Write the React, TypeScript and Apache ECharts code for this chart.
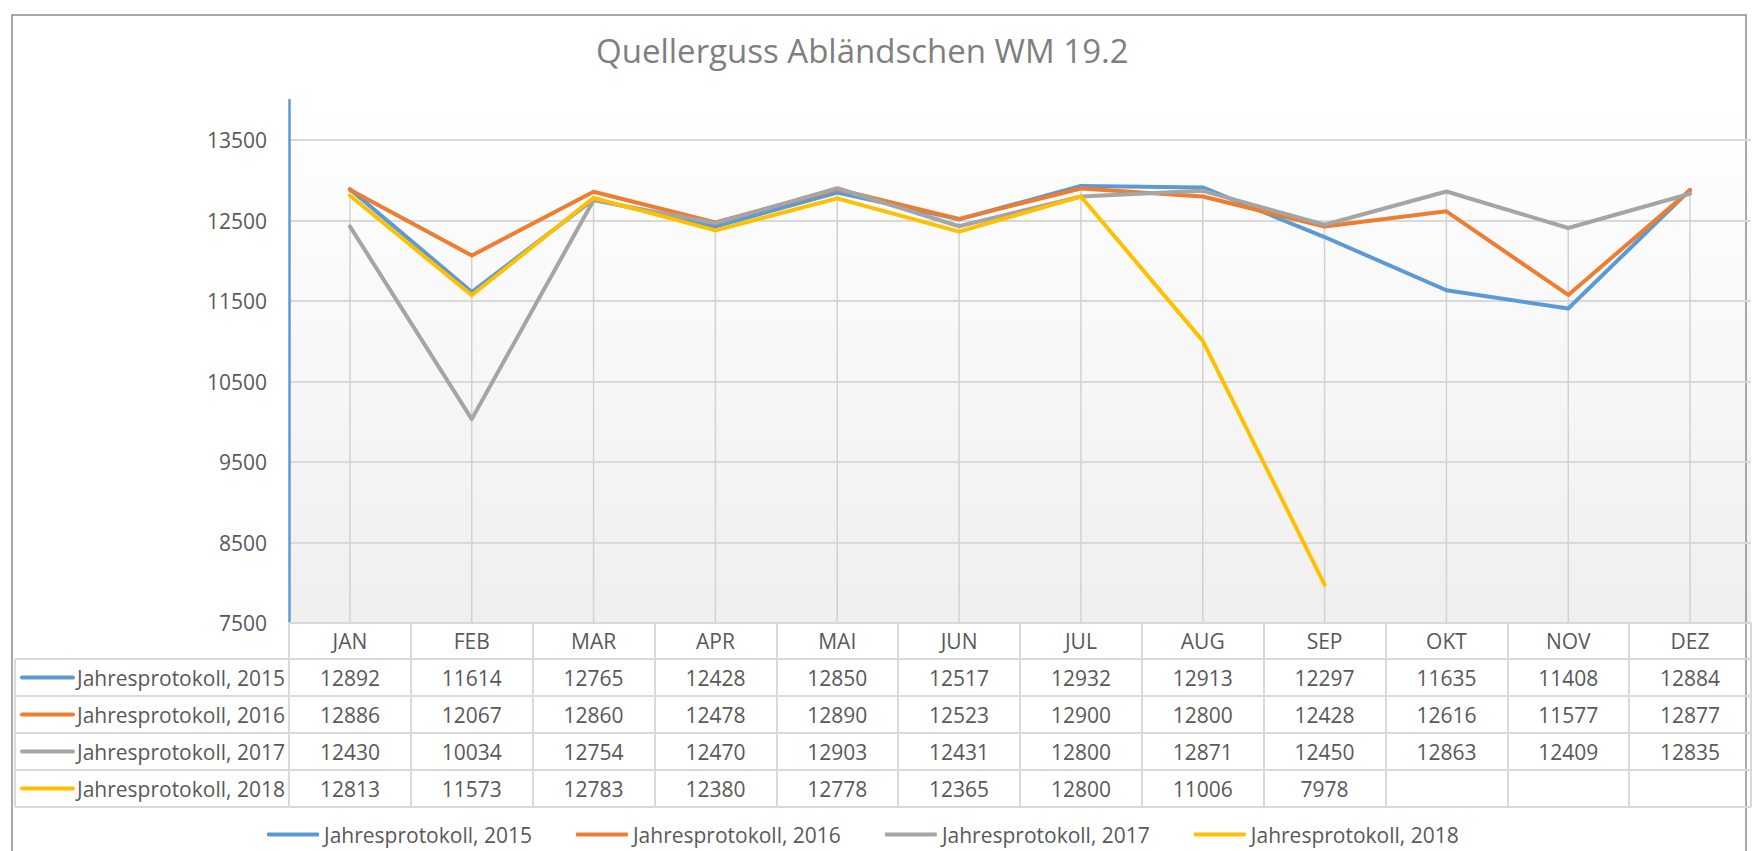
import React, { useEffect, useRef } from "react";
import * as echarts from "echarts";

const categories = ["JAN", "FEB", "MAR", "APR", "MAI", "JUN", "JUL", "AUG", "SEP", "OKT", "NOV", "DEZ"];
const seriesNames = [
  "Jahresprotokoll, 2015",
  "Jahresprotokoll, 2016",
  "Jahresprotokoll, 2017",
  "Jahresprotokoll, 2018",
];
const values2015 = [12892, 11614, 12765, 12428, 12850, 12517, 12932, 12913, 12297, 11635, 11408, 12884];
const values2016 = [12886, 12067, 12860, 12478, 12890, 12523, 12900, 12800, 12428, 12616, 11577, 12877];
const values2017 = [12430, 10034, 12754, 12470, 12903, 12431, 12800, 12871, 12450, 12863, 12409, 12835];
const values2018 = [12813, 11573, 12783, 12380, 12778, 12365, 12800, 11006, 7978, null, null, null];
const yTickLabels = [7500, 8500, 9500, 10500, 11500, 12500, 13500];
const Y_MIN = 7500;
const Y_MAX = 14000;

const seriesColors = ["#5B9BD5", "#ED7D31", "#A5A5A5", "#FFC000"];
const allValues = [values2015, values2016, values2017, values2018];

// layout
const W = 1763;
const H = 851;
const GRID_LEFT = 289;
const GRID_TOP = 100;
const GRID_BOTTOM_Y = 623;
const GRID_RIGHT_X = 1751;
const HEADER_H = 36;
const ROW_H = 37;
const TABLE_LEFT = 15;
const FONT = '"Open Sans", sans-serif';
const TEXT_COLOR = "#595959";
const TABLE_LINE = "#d9d9d9";

export default function App() {
  const ref = useRef<HTMLDivElement>(null);

  useEffect(() => {
    if (!ref.current) return;
    const chart = echarts.init(ref.current, undefined, { renderer: "svg" });

    const tableBottom = GRID_BOTTOM_Y + HEADER_H + ROW_H * seriesNames.length;

    const graphics: any[] = [];
    // outer chart border
    graphics.push({
      type: "rect",
      shape: { x: 12, y: 15, width: 1734, height: H },
      style: { fill: "none", stroke: "#8c8c8c", lineWidth: 1.5 },
      silent: true,
      z: 0,
    });
    // table horizontal lines
    for (let i = 0; i <= seriesNames.length; i++) {
      const y = GRID_BOTTOM_Y + HEADER_H + ROW_H * i;
      graphics.push({
        type: "line",
        shape: { x1: TABLE_LEFT, y1: y, x2: GRID_RIGHT_X, y2: y },
        style: { stroke: TABLE_LINE, lineWidth: 2 },
        silent: true,
      });
    }
    // table left vertical line
    graphics.push({
      type: "line",
      shape: { x1: TABLE_LEFT, y1: GRID_BOTTOM_Y + HEADER_H, x2: TABLE_LEFT, y2: tableBottom },
      style: { stroke: TABLE_LINE, lineWidth: 2 },
      silent: true,
    });
    // row legend keys and names
    seriesNames.forEach((name, i) => {
      const cy = GRID_BOTTOM_Y + HEADER_H + ROW_H * i + ROW_H / 2;
      graphics.push({
        type: "line",
        shape: { x1: 22, y1: cy, x2: 73, y2: cy },
        style: { stroke: seriesColors[i], lineWidth: 4, lineCap: "round" },
        silent: true,
      });
      graphics.push({
        type: "text",
        x: 77,
        y: cy,
        style: {
          text: name,
          fill: TEXT_COLOR,
          font: `21px ${FONT}`,
          textAlign: "left",
          textVerticalAlign: "middle",
          align: "left",
          verticalAlign: "middle",
        },
        silent: true,
      });
    });

    const dropData = categories.map((_, i) => {
      const vals = allValues.map((s) => s[i]).filter((v) => v !== null && v !== undefined) as number[];
      return [i, Math.max(...vals)];
    });

    const option: any = {
      animation: false,
      backgroundColor: "#ffffff",
      textStyle: { fontFamily: FONT },
      title: {
        text: "Quellerguss Abländschen WM 19.2",
        left: 591,
        top: 29,
        textStyle: { fontSize: 33, fontWeight: "normal", color: "#7f7f7f", fontFamily: FONT },
      },
      grid: {
        left: GRID_LEFT,
        top: GRID_TOP,
        width: GRID_RIGHT_X - GRID_LEFT,
        height: GRID_BOTTOM_Y - GRID_TOP,
        show: true,
        borderWidth: 0,
        backgroundColor: new echarts.graphic.LinearGradient(0, 0, 0, 1, [
          { offset: 0, color: "#ffffff" },
          { offset: 1, color: "#efefef" },
        ]),
        containLabel: false,
      },
      legend: {
        data: seriesNames,
        left: 262,
        top: 819,
        icon: "roundRect",
        itemWidth: 52,
        itemHeight: 4,
        itemGap: 44,
        textStyle: { fontSize: 21, color: TEXT_COLOR, fontFamily: FONT },
      },
      xAxis: {
        type: "category",
        data: categories,
        boundaryGap: true,
        axisLine: { show: true, lineStyle: { color: TABLE_LINE, width: 2 } },
        axisTick: {
          show: true,
          alignWithLabel: false,
          length: tableBottom - GRID_BOTTOM_Y,
          lineStyle: { color: TABLE_LINE, width: 2 },
        },
        splitLine: { show: false },
        axisLabel: {
          interval: 0,
          margin: 0,
          hideOverlap: false,
          fontSize: 21,
          color: TEXT_COLOR,
          fontFamily: FONT,
          formatter: (val: string, idx: number) =>
            [`{h|${val}}`, ...allValues.map((s) => `{v|${s[idx] === null ? " " : s[idx]}}`)].join("\n"),
          rich: {
            h: { fontSize: 21, lineHeight: HEADER_H, color: TEXT_COLOR, fontFamily: FONT },
            v: { fontSize: 21, lineHeight: ROW_H, color: TEXT_COLOR, fontFamily: FONT },
          },
        },
      },
      yAxis: {
        type: "value",
        min: Y_MIN,
        max: Y_MAX,
        interval: 500,
        axisLine: { show: true, lineStyle: { color: "#5B9BD5", width: 2.5 } },
        axisTick: { show: false },
        axisLabel: {
          margin: 22,
          fontSize: 21,
          color: TEXT_COLOR,
          fontFamily: FONT,
          formatter: (v: number) => (yTickLabels.includes(v) ? String(v) : ""),
        },
        splitLine: {
          show: true,
          showMaxLine: false,
          lineStyle: { color: [TABLE_LINE, "rgba(0,0,0,0)"], width: 2 },
        },
      },
      series: [
        {
          type: "custom",
          name: "drop",
          data: dropData,
          z: 1,
          silent: true,
          encode: { x: 0, y: 1 },
          renderItem: (params: any, api: any) => {
            const x = api.value(0);
            const top = api.coord([x, api.value(1)]);
            const bottom = api.coord([x, Y_MIN]);
            return {
              type: "line",
              shape: { x1: top[0], y1: top[1], x2: bottom[0], y2: bottom[1] },
              style: { stroke: "#d2d2d2", lineWidth: 1.5 },
            };
          },
        },
        ...seriesNames.map((name, i) => ({
          type: "line",
          name,
          data: allValues[i],
          color: seriesColors[i],
          symbol: "none",
          z: 2 + i,
          lineStyle: { width: 4, color: seriesColors[i], cap: "round", join: "round" },
        })),
      ],
      graphic: graphics,
    };

    chart.setOption(option);
    return () => chart.dispose();
  }, []);

  return (
    <div
      ref={ref}
      style={{ position: "absolute", left: 0, top: 0, width: W, height: H }}
    />
  );
}
